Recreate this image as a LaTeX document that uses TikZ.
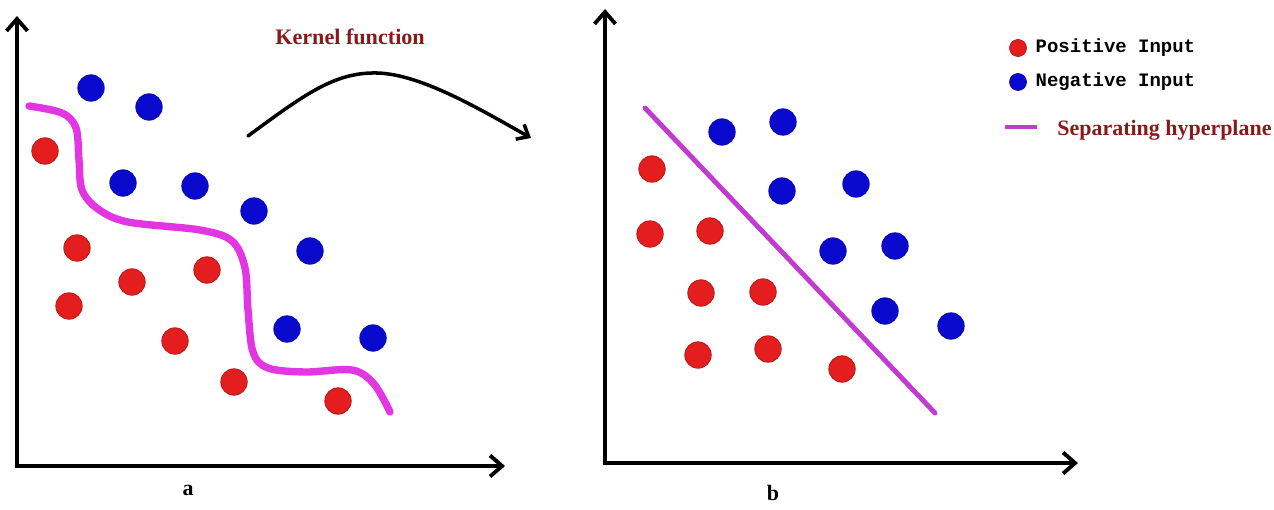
\documentclass[tikz,border=0pt]{standalone}
\usepackage{fontspec}
\setmainfont{Liberation Serif}
\newfontfamily\legendfont{Liberation Mono}
\usepackage{xcolor}
\usetikzlibrary{arrows.meta,positioning}
\definecolor{dotred}{HTML}{E41E1E}
\definecolor{dotblue}{HTML}{0A0ACF}
\definecolor{curvemag}{HTML}{E236E2}
\definecolor{planemag}{HTML}{C23BD0}
\definecolor{labelred}{HTML}{8A1A1A}

\begin{document}
\begin{tikzpicture}[x=0.02cm,y=-0.02cm,
  posdot/.style={circle,fill=dotred,draw=dotred!75!black,line width=0.4pt,inner sep=0pt,minimum size=0.53cm},
  negdot/.style={circle,fill=dotblue,draw=dotblue!80!black,line width=0.4pt,inner sep=0pt,minimum size=0.53cm},
  axisline/.style={line width=2.2pt,{Straight Barb[length=2.4mm,width=4.2mm]}-{Straight Barb[length=2.4mm,width=4.2mm]}},
  heading/.style={font=\fontsize{12.5}{14}\selectfont\bfseries,text=labelred,inner sep=0pt,anchor=west},
  legendtext/.style={font=\fontsize{10.8}{12}\selectfont\legendfont\bfseries,inner sep=0pt},
  sublabel/.style={font=\fontsize{12.5}{14}\selectfont\bfseries,inner sep=0pt}]
  \useasboundingbox (0,0) rectangle (1274,510);
  % axes
  \coordinate (oa) at (17,466);
  \coordinate (ya) at (17,16);
  \coordinate (xa) at (505,466);
  \coordinate (ob) at (605,463);
  \coordinate (yb) at (605,9);
  \coordinate (xb) at (1078,463);
  \draw[axisline] (ya) -- (oa) -- (xa);
  \draw[axisline] (yb) -- (ob) -- (xb);
  % panel a
  \draw[curvemag,line width=4.2pt,line cap=round] plot[smooth,tension=0.55] coordinates {
    (29,106) (62,113) (76,128) (79,160) (82,190) (98,209) (128,222) (200,230)
    (232,241) (245,268) (248,310) (253,352) (268,368) (305,372) (352,370) (374,384) (390,412)};
  \foreach \x/\y [count=\i] in {45/151,77/248,132/282,207/270,69/306,175/341,234/382,338/401}
    \node[posdot] (ap\i) at (\x,\y) {};
  \foreach \x/\y [count=\i] in {91/88,149/107,123/183,195/186,254/211,310/251,287/329,373/338}
    \node[negdot] (an\i) at (\x,\y) {};
  \node[sublabel] (la) at (188,490) {a};
  % kernel function
  \node[heading,font=\fontsize{12.6}{14}\selectfont\bfseries] (kernel) at (275,37) {Kernel function};
  \coordinate (kstart) at (248,136);
  \coordinate (kend) at (531,138);
  \draw[line width=2pt,line cap=round,-{Straight Barb[length=2mm,width=3.4mm]}]
    (kstart) .. controls (305,94) and (335,72) .. (377,73) .. controls (420,74) and (478,108) .. (kend);
  % panel b
  \coordinate (h1) at (645,108);
  \coordinate (h2) at (935,413);
  \draw[planemag,line width=2.8pt,line cap=round] (h1) -- (h2);
  \foreach \x/\y [count=\i] in {652/169,650/234,710/231,701/293,763/292,698/355,768/349,842/369}
    \node[posdot] (bp\i) at (\x,\y) {};
  \foreach \x/\y [count=\i] in {722/132,783/122,782/191,856/184,833/251,895/246,885/311,951/326}
    \node[negdot] (bn\i) at (\x,\y) {};
  \node[sublabel] (lb) at (773,493) {b};
  % legend
  \node[posdot,minimum size=0.34cm] (lpos) at (1018,48) {};
  \node[legendtext,anchor=west,right=0.17cm of lpos] (tpos) {Positive Input};
  \node[negdot,minimum size=0.34cm] (lneg) at (1018,82) {};
  \node[legendtext,anchor=west,right=0.17cm of lneg] (tneg) {Negative Input};
  \coordinate (ld1) at (1005,127);
  \coordinate (ld2) at (1037,127);
  \draw[planemag,line width=2.3pt] (ld1) -- (ld2);
  \node[heading] (tsep) at (1057,130) {Separating hyperplane};
\end{tikzpicture}
\end{document}
